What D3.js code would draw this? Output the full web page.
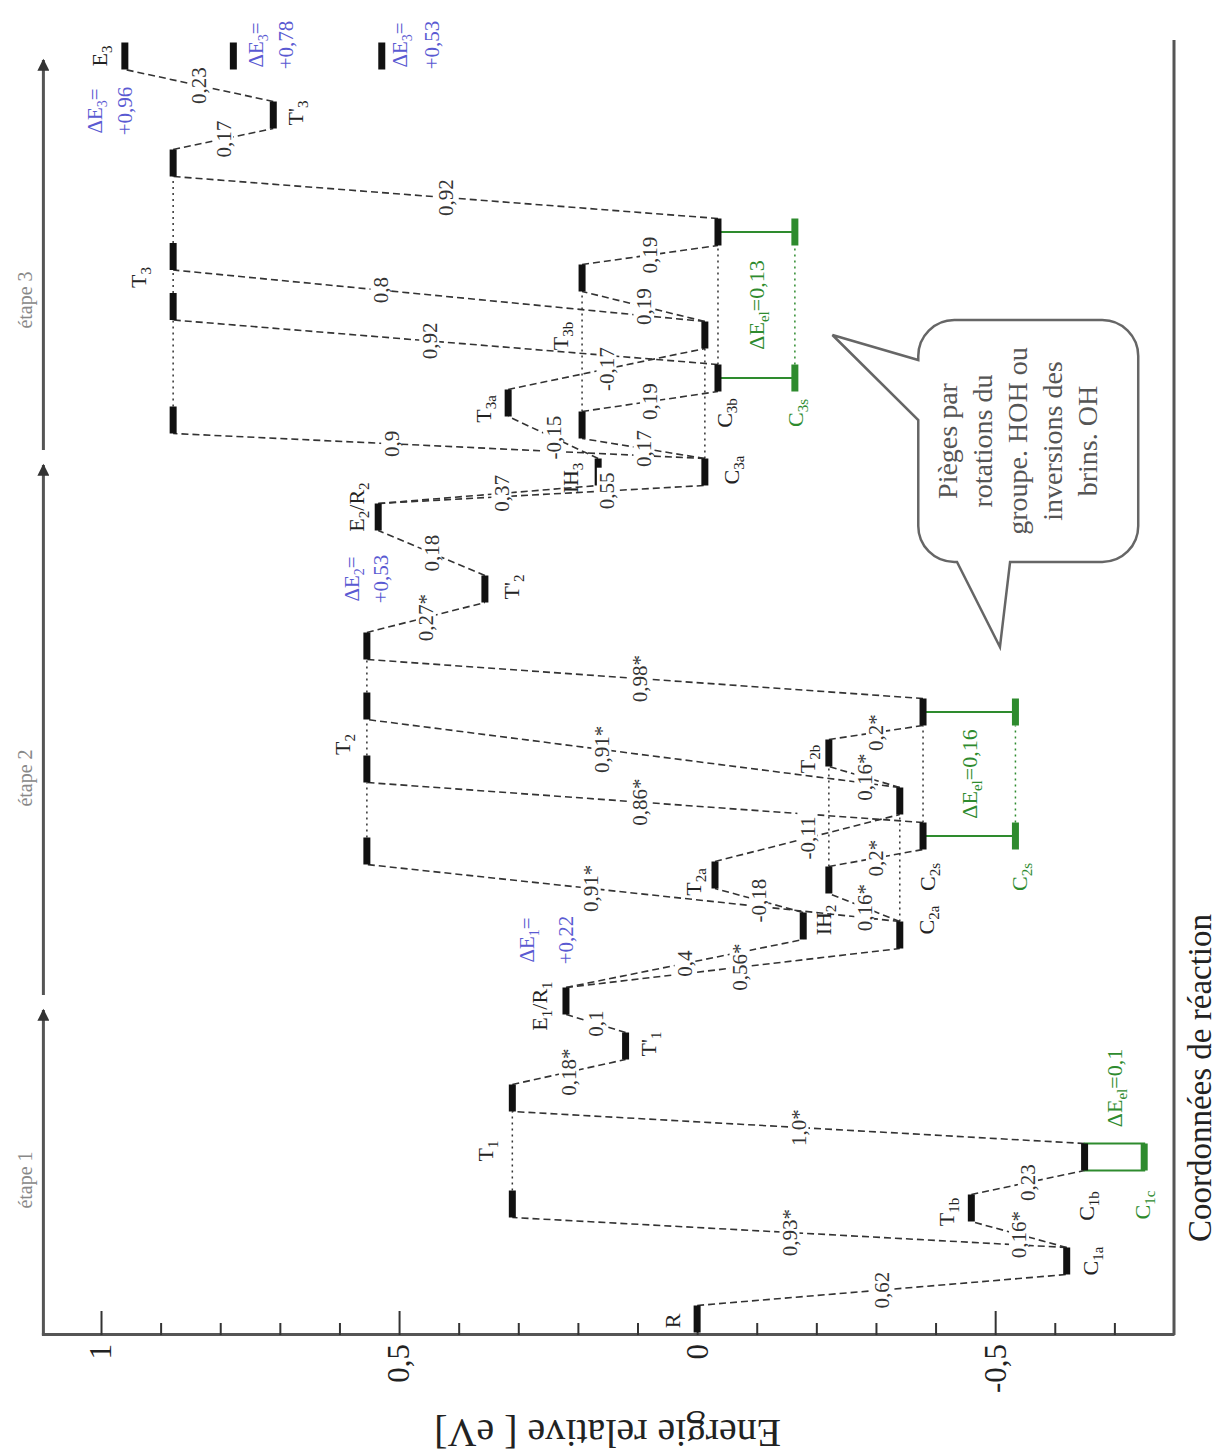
<!DOCTYPE html>
<html lang="fr">
<head>
<meta charset="utf-8">
<title>Energie relative</title>
<script src="https://cdn.jsdelivr.net/npm/d3@7"></script>
<style>
  body { margin: 0; background: #fff; }
  svg text { font-family: "Liberation Serif", "Times New Roman", serif; }
</style>
</head>
<body>
<div id="chart"></div>
<script>
// ---------- data ----------
const energyTicks = [-0.7, -0.6, -0.5, -0.4, -0.3, -0.2, -0.1, 0, 0.1, 0.2, 0.3, 0.4, 0.5, 0.6, 0.7, 0.8, 0.9, 1.0];
const energyMajor = [-0.5, 0, 0.5, 1.0];

const stages = [
  { name: "étape 1", start: 0, end: 32.5, labelAt: 15.5 },
  { name: "étape 2", start: 34, end: 87, labelAt: 55.7 },
  { name: "étape 3", start: 88.5, end: 127.5, labelAt: 103.5 }
];

// energy levels: rc = reaction coordinate, e = energy (eV)
const levels = [
  { id: "R", rc: 1.6, e: 0.0 },
  { id: "C1a", rc: 7.4, e: -0.62 },
  { id: "T1b", rc: 12.7, e: -0.46 },
  { id: "C1b", rc: 17.8, e: -0.65 },
  { id: "C1c", rc: 17.8, e: -0.75, el: true },
  { id: "T1-1", rc: 13.1, e: 0.31 },
  { id: "T1-2", rc: 23.7, e: 0.31 },
  { id: "T'1", rc: 28.9, e: 0.12 },
  { id: "E1R1", rc: 33.4, e: 0.22 },
  { id: "C2a", rc: 40.0, e: -0.34 },
  { id: "IH2", rc: 40.9, e: -0.178 },
  { id: "T2a", rc: 46.0, e: -0.03 },
  { id: "C2c", rc: 45.5, e: -0.221 },
  { id: "C2s", rc: 49.9, e: -0.379 },
  { id: "C2s'", rc: 49.9, e: -0.534, el: true },
  { id: "C2x", rc: 53.4, e: -0.34 },
  { id: "T2b", rc: 58.2, e: -0.221 },
  { id: "C2b", rc: 62.3, e: -0.379 },
  { id: "C2b'", rc: 62.3, e: -0.534, el: true },
  { id: "T2-1", rc: 48.4, e: 0.554 },
  { id: "T2-2", rc: 56.6, e: 0.554 },
  { id: "T2-3", rc: 62.9, e: 0.554 },
  { id: "T2-4", rc: 68.9, e: 0.554 },
  { id: "T'2", rc: 74.6, e: 0.356 },
  { id: "E2R2", rc: 81.8, e: 0.535 },
  { id: "IH3", rc: 86.3, e: 0.166 },
  { id: "C3a", rc: 86.3, e: -0.013 },
  { id: "T3a", rc: 93.2, e: 0.317 },
  { id: "C3c", rc: 91.0, e: 0.193 },
  { id: "C3d", rc: 105.7, e: 0.193 },
  { id: "C3e", rc: 100.0, e: -0.013 },
  { id: "C3b", rc: 95.7, e: -0.035 },
  { id: "C3s", rc: 95.7, e: -0.164, el: true },
  { id: "C3f", rc: 110.3, e: -0.035 },
  { id: "C3f'", rc: 110.3, e: -0.164, el: true },
  { id: "T3-1", rc: 91.5, e: 0.879 },
  { id: "T3-2", rc: 102.85, e: 0.879 },
  { id: "T3-3", rc: 107.85, e: 0.879 },
  { id: "T3-4", rc: 117.2, e: 0.879 },
  { id: "T'3", rc: 122.0, e: 0.711 },
  { id: "E3", rc: 127.9, e: 0.96 },
  { id: "E3b", rc: 127.9, e: 0.778 },
  { id: "E3c", rc: 127.9, e: 0.529 }
];

// dashed paths: right end of first level -> left end of second, barrier text, label position along the path
const links = [
  ["R", "C1a", "0,62"], ["C1a", "T1b", "0,16*"], ["T1b", "C1b", "0,23"],
  ["C1a", "T1-1", "0,93*"], ["C1b", "T1-2", "1,0*"], ["T1-2", "T'1", "0,18*"], ["T'1", "E1R1", "0,1"],
  ["E1R1", "IH2", "0,4"], ["E1R1", "C2a", "0,56*", 0.52], ["IH2", "T2a", "-0,18"], ["T2a", "C2x", "-0,11"],
  ["C2a", "C2c", "0,16*"], ["C2c", "C2s", "0,2*"], ["C2x", "T2b", "0,16*"], ["T2b", "C2b", "0,2*"],
  ["C2a", "T2-1", "0,91*", 0.58], ["C2s", "T2-2", "0,86*", 0.51], ["C2x", "T2-3", "0,91*", 0.56], ["C2b", "T2-4", "0,98*", 0.51],
  ["T2-4", "T'2", "0,27*"], ["T'2", "E2R2", "0,18"],
  ["E2R2", "IH3", "0,37", 0.56], ["E2R2", "C3a", "0,55", 0.7], ["IH3", "T3a", "-0,15"], ["T3a", "C3e", "-0,17"],
  ["C3a", "C3c", "0,17"], ["C3c", "C3b", "0,19"], ["C3e", "C3d", "0,19"], ["C3d", "C3f", "0,19"],
  ["C3a", "T3-1", "0,9", 0.59], ["C3b", "T3-2", "0,92", 0.53], ["C3e", "T3-3", "0,8", 0.61], ["C3f", "T3-4", "0,92"],
  ["T3-4", "T'3", "0,17"], ["T'3", "E3", "0,23"]
];

// dotted ties between equal-energy levels
const ties = [
  ["T1-1", "T1-2"], ["T2-1", "T2-2"], ["T2-2", "T2-3"], ["T2-3", "T2-4"],
  ["T3-1", "T3-2"], ["T3-2", "T3-3"], ["T3-3", "T3-4"],
  ["C2s", "C2b"], ["C2a", "C2x"], ["C2c", "T2b"],
  ["C3c", "C3d"], ["C3b", "C3f"], ["C3a", "C3e"]
];

// green electronic-energy pairs
const elBox = [["C1b", "C1c"]];
const elLinks = [["C2s", "C2s'"], ["C2b", "C2b'"], ["C3b", "C3s"], ["C3f", "C3f'"]];
const elTies = [["C2s'", "C2b'"], ["C3s", "C3f'"]];
const elLabels = [
  { ids: ["C1b", "C1c"], text: "0,1" },
  { ids: ["C2s", "C2s'", "C2b", "C2b'"], text: "0,16" },
  { ids: ["C3b", "C3s", "C3f", "C3f'"], text: "0,13" }
];

// level names
const names = [
  { id: "R", base: "R", sub: "" },
  { id: "C1a", base: "C", sub: "1a" },
  { id: "T1b", base: "T", sub: "1b" },
  { id: "C1b", base: "C", sub: "1b" },
  { id: "C1c", base: "C", sub: "1c", el: true },
  { id: "T'1", base: "T'", sub: "1" },
  { id: "C2a", base: "C", sub: "2a" },
  { id: "IH2", base: "IH", sub: "2" },
  { id: "T2a", base: "T", sub: "2a" },
  { id: "C2s", base: "C", sub: "2s" },
  { id: "C2s'", base: "C", sub: "2s", el: true },
  { id: "T2b", base: "T", sub: "2b" },
  { id: "T'2", base: "T'", sub: "2" },
  { id: "IH3", base: "IH", sub: "3" },
  { id: "C3a", base: "C", sub: "3a" },
  { id: "T3a", base: "T", sub: "3a" },
  { id: "C3d", base: "T", sub: "3b" },
  { id: "C3b", base: "C", sub: "3b" },
  { id: "C3s", base: "C", sub: "3s", el: true },
  { id: "T'3", base: "T'", sub: "3" },
  { id: "E3", base: "E", sub: "3" }
];
const tieNames = [
  { ids: ["T1-1", "T1-2"], base: "T", sub: "1" },
  { ids: ["T2-2", "T2-3"], base: "T", sub: "2" },
  { ids: ["T3-2", "T3-3"], base: "T", sub: "3" }
];
const slashNames = [
  { id: "E1R1", parts: ["E", "1", "/R", "1"] },
  { id: "E2R2", parts: ["E", "2", "/R", "2"] }
];

// reaction energies (blue)
const deltas = [
  { id: "E1R1", sub: "1", value: "+0,22" },
  { id: "E2R2", sub: "2", value: "+0,53" },
  { id: "E3", sub: "3", value: "+0,96" },
  { id: "E3b", sub: "3", value: "+0,78" },
  { id: "E3c", sub: "3", value: "+0,53" }
];

const calloutLines = ["Pièges par", "rotations du", "groupe. HOH ou", "inversions des", "brins. OH"];

// ---------- layout (text offsets in the unrotated frame: [along, across]) ----------
const nameOffset = {
  "R": [-2, -25], "C1a": [0, 24], "T1b": [-4, -25], "C1b": [-49, 2], "C1c": [-48, -2],
  "T'1": [2, 23], "C2a": [15, 27], "IH2": [6, 20], "T2a": [-7, -22], "C2s": [-41, 4],
  "C2s'": [-41, 4], "T2b": [-6, -22], "T'2": [2, 26], "IH3": [-6, -28], "C3a": [2, 26],
  "T3a": [-6, -25], "C3d": [-58, -22], "C3b": [-35, 6], "C3s": [-35, 0], "T'3": [2, 22], "E3": [0, -26]
};
const tieOffset = { "1": [0, -27], "2": [-7, -25], "3": [4, -35] };
const slashOffset = { "E1R1": [-5, -27], "E2R2": [10, -22] };
const deltaOffset = {
  "E1R1": [61, -39, 0], "E2R2": [-62, -27, 2], "E3": [-55, -30, 0],
  "E3b": [11, 22, 52], "E3c": [11, 18, 50]
};
const elLabelShift = [69, 0, 0];

// ---------- drawing ----------
const W = 1221, H = 1456;
const BLACK = "#111", GREEN = "#2e8b2e", BLUE = "#5a5ad2", AXIS = "#555";
const byId = new Map(levels.map(d => [d.id, d]));

const svg = d3.select("#chart").append("svg")
  .attr("width", W).attr("height", H)
  .style("display", "block");

svg.append("defs").append("marker")
  .attr("id", "arrow").attr("viewBox", "0 0 10 10")
  .attr("refX", 9).attr("refY", 5)
  .attr("markerWidth", 4.5).attr("markerHeight", 4)
  .attr("orient", "auto")
  .append("path").attr("d", "M0,0L10,5L0,10z").attr("fill", "#333");

// the whole diagram is drawn unrotated, then turned a quarter turn
const g = svg.append("g").attr("transform", `translate(0,${H}) rotate(-90)`);

const x = d3.scaleLinear().domain([0, 129.5]).range([121, 1416]);
const y = d3.scaleLinear().domain([-0.8, 1.1]).range([1174, 41.4]);
const half = 13.5;

// energy axis
const isMajor = d => energyMajor.some(m => Math.abs(m - d) < 1e-6);
const fmt = d => String(Math.round(d * 10) / 10).replace(".", ",");
const yAxis = g.append("g")
  .attr("transform", `translate(${x(0)},0)`)
  .call(d3.axisLeft(y).tickValues(energyTicks).tickSizeInner(-12).tickSizeOuter(0).tickPadding(9)
    .tickFormat(d => isMajor(d) ? fmt(d) : ""));
yAxis.select(".domain").attr("stroke", AXIS).attr("stroke-width", 3);
yAxis.selectAll(".tick line").attr("stroke", "#333").attr("stroke-width", 2)
  .attr("x2", d => isMajor(d) ? 24 : 12);
yAxis.selectAll(".tick text")
  .attr("font-family", "Liberation Sans, Arial, sans-serif").attr("font-size", 31).attr("fill", "#222");

// reaction-coordinate axis (bottom of the unrotated chart)
g.append("line")
  .attr("x1", x(0)).attr("x2", x.range()[1])
  .attr("y1", y(-0.8)).attr("y2", y(-0.8))
  .attr("stroke", AXIS).attr("stroke-width", 3);

g.append("text")
  .attr("x", 378).attr("y", y(-0.8) + 37)
  .attr("text-anchor", "middle")
  .attr("font-family", "Liberation Sans, Arial, sans-serif")
  .attr("font-size", 33).attr("fill", "#222")
  .text("Coordonnées de réaction");

g.append("text")
  .attr("transform", `translate(36,${y(0.15)}) rotate(-90)`)
  .attr("text-anchor", "middle")
  .attr("font-size", 40).attr("fill", "#222")
  .text("Energie relative [ eV]");

// stage arrows
const stageY = y(1.1) + 2;
g.selectAll(".stage").data(stages).join("line")
  .attr("x1", d => x(d.start)).attr("x2", d => x(d.end))
  .attr("y1", stageY).attr("y2", stageY)
  .attr("stroke", "#555").attr("stroke-width", 3)
  .attr("marker-end", "url(#arrow)");
g.selectAll(".stageLabel").data(stages).join("text")
  .attr("x", d => x(d.labelAt)).attr("y", stageY - 11)
  .attr("text-anchor", "middle").attr("font-size", 20).attr("fill", "#888")
  .text(d => d.name);

// helpers for level ends
const L = id => byId.get(id);
const left = d => x(d.rc) - half, right = d => x(d.rc) + half;

// dotted ties
g.selectAll(".tie").data(ties).join("line")
  .attr("x1", d => right(L(d[0]))).attr("x2", d => left(L(d[1])))
  .attr("y1", d => y(L(d[0]).e)).attr("y2", d => y(L(d[1]).e))
  .attr("stroke", "#333").attr("stroke-width", 1.5).attr("stroke-dasharray", "2,4");

// dashed links
g.selectAll(".link").data(links).join("line")
  .attr("x1", d => right(L(d[0]))).attr("y1", d => y(L(d[0]).e))
  .attr("x2", d => left(L(d[1]))).attr("y2", d => y(L(d[1]).e))
  .attr("stroke", "#333").attr("stroke-width", 1.6).attr("stroke-dasharray", "7,4");

// green electronic pairs
g.selectAll(".elTie").data(elTies).join("line")
  .attr("x1", d => right(L(d[0]))).attr("x2", d => left(L(d[1])))
  .attr("y1", d => y(L(d[0]).e)).attr("y2", d => y(L(d[1]).e))
  .attr("stroke", GREEN).attr("stroke-width", 1.5).attr("stroke-dasharray", "2,4");
g.selectAll(".elLink").data(elLinks).join("line")
  .attr("x1", d => x(L(d[0]).rc)).attr("x2", d => x(L(d[1]).rc))
  .attr("y1", d => y(L(d[0]).e)).attr("y2", d => y(L(d[1]).e))
  .attr("stroke", GREEN).attr("stroke-width", 1.8);
g.selectAll(".elBox").data(elBox).join("rect")
  .attr("x", d => left(L(d[0]))).attr("width", half * 2)
  .attr("y", d => y(L(d[0]).e)).attr("height", d => y(L(d[1]).e) - y(L(d[0]).e))
  .attr("fill", "none").attr("stroke", GREEN).attr("stroke-width", 2);
g.selectAll(".elLabel").data(elLabels).join("text")
  .attr("x", (d, i) => d3.mean(d.ids, id => x(L(id).rc)) + elLabelShift[i])
  .attr("y", d => d3.mean(d.ids, id => y(L(id).e)))
  .attr("dy", "0.35em")
  .attr("text-anchor", "middle").attr("font-size", 22).attr("fill", GREEN)
  .call(t => {
    t.append("tspan").text("ΔE");
    t.append("tspan").attr("font-size", 15).attr("dy", 5).text("el");
    t.append("tspan").attr("dy", -5).text(d => "=" + d.text);
  });

// level bars
g.selectAll(".level").data(levels).join("line")
  .attr("x1", d => left(d)).attr("x2", d => right(d))
  .attr("y1", d => y(d.e)).attr("y2", d => y(d.e))
  .attr("stroke", d => d.el ? GREEN : BLACK).attr("stroke-width", 7);

// barrier labels on links
const linkLabels = g.selectAll(".linkLabel").data(links).join("g")
  .attr("transform", d => {
    const a = L(d[0]), b = L(d[1]), t = d[3] ?? 0.5;
    const u = right(a) + t * (left(b) - right(a));
    const v = y(a.e) + t * (y(b.e) - y(a.e));
    return `translate(${u},${v})`;
  });
linkLabels.append("rect")
  .attr("x", d => -d[2].length * 5.3 - 2).attr("y", -10)
  .attr("width", d => d[2].length * 10.6 + 4).attr("height", 20).attr("fill", "#fff");
linkLabels.append("text")
  .attr("text-anchor", "middle").attr("dy", "0.35em")
  .attr("font-size", 21).attr("fill", "#333")
  .text(d => d[2]);

// level names
function nameText(sel) {
  sel.append("tspan").text(d => d.base);
  sel.append("tspan").attr("font-size", 15).attr("dy", 5).text(d => d.sub);
}
g.selectAll(".name").data(names).join("text")
  .attr("x", d => x(L(d.id).rc) + nameOffset[d.id][0])
  .attr("y", d => y(L(d.id).e) + nameOffset[d.id][1])
  .attr("dy", "0.35em")
  .attr("text-anchor", "middle").attr("font-size", 22)
  .attr("fill", d => d.el ? GREEN : "#222")
  .call(nameText);

g.selectAll(".tieName").data(tieNames).join("text")
  .attr("x", d => d3.mean(d.ids, id => x(L(id).rc)) + tieOffset[d.sub][0])
  .attr("y", d => y(L(d.ids[0]).e) + tieOffset[d.sub][1])
  .attr("dy", "0.35em")
  .attr("text-anchor", "middle").attr("font-size", 22).attr("fill", "#222")
  .call(nameText);

g.selectAll(".slashName").data(slashNames).join("text")
  .attr("x", d => x(L(d.id).rc) + slashOffset[d.id][0])
  .attr("y", d => y(L(d.id).e) + slashOffset[d.id][1])
  .attr("dy", "0.35em")
  .attr("text-anchor", "middle").attr("font-size", 22).attr("fill", "#222")
  .call(t => {
    t.append("tspan").text(d => d.parts[0]);
    t.append("tspan").attr("font-size", 15).attr("dy", 5).text(d => d.parts[1]);
    t.append("tspan").attr("dy", -5).text(d => d.parts[2]);
    t.append("tspan").attr("font-size", 15).attr("dy", 5).text(d => d.parts[3]);
  });

// reaction energies
const dg = g.selectAll(".delta").data(deltas).join("g")
  .attr("transform", d => `translate(${x(L(d.id).rc) + deltaOffset[d.id][0]},${y(L(d.id).e)})`)
  .attr("fill", BLUE);
const dl1 = dg.append("text")
  .attr("y", d => deltaOffset[d.id][1]).attr("dy", "0.35em")
  .attr("text-anchor", "middle").attr("font-size", 21);
dl1.append("tspan").text("ΔE");
dl1.append("tspan").attr("font-size", 14).attr("dy", 5).text(d => d.sub);
dl1.append("tspan").attr("dy", -5).text("=");
dg.append("text")
  .attr("y", d => deltaOffset[d.id][2]).attr("dy", "0.35em")
  .attr("text-anchor", "middle").attr("font-size", 21)
  .text(d => d.value);

// callout bubble (anchored to the energy / reaction scales)
const bx0 = x(77.3), bx1 = x(101.5), by0 = y(-0.371), by1 = y(-0.74), r = 36;
const tipA = [x(100), y(-0.227)], tipB = [x(68.8), y(-0.508)];
const bubble = d3.path();
bubble.moveTo(bx0 + r, by0);
bubble.lineTo(x(91.5), by0);
bubble.lineTo(tipA[0], tipA[1]);
bubble.lineTo(x(97.5), by0);
bubble.lineTo(bx1 - r, by0);
bubble.arcTo(bx1, by0, bx1, by0 + r, r);
bubble.lineTo(bx1, by1 - r);
bubble.arcTo(bx1, by1, bx1 - r, by1, r);
bubble.lineTo(bx0 + r, by1);
bubble.arcTo(bx0, by1, bx0, by1 - r, r);
bubble.lineTo(bx0, y(-0.525));
bubble.lineTo(tipB[0], tipB[1]);
bubble.lineTo(bx0, y(-0.436));
bubble.lineTo(bx0, by0 + r);
bubble.arcTo(bx0, by0, bx0 + r, by0, r);
bubble.closePath();
g.append("path").attr("d", bubble.toString())
  .attr("fill", "#fff").attr("stroke", "#666").attr("stroke-width", 2.5)
  .attr("stroke-linejoin", "miter");
g.append("text")
  .attr("text-anchor", "middle").attr("font-size", 28).attr("fill", "#555")
  .selectAll("tspan").data(calloutLines).join("tspan")
  .attr("x", (bx0 + bx1) / 2)
  .attr("y", (d, i) => by0 + 29 + i * 35)
  .attr("dy", "0.35em")
  .text(d => d);
</script>
</body>
</html>
